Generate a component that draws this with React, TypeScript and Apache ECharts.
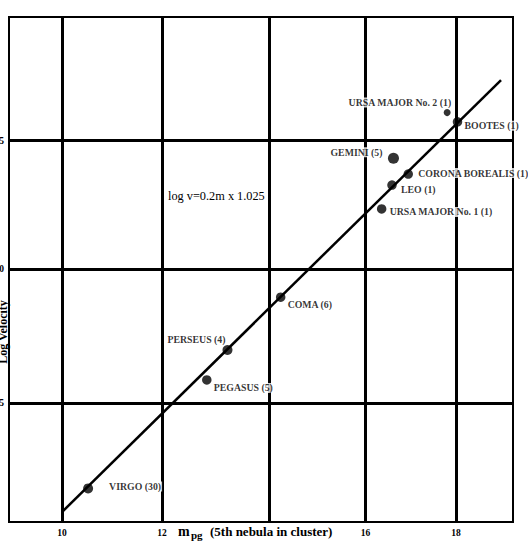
import React, { useEffect, useRef } from "react";
import * as echarts from "echarts";

// Clusters of nebulae: photographic magnitude of the 5th nebula vs log velocity
const clusterNames = [
  "VIRGO (30)",
  "PEGASUS (5)",
  "PERSEUS (4)",
  "COMA (6)",
  "URSA MAJOR No. 1 (1)",
  "LEO (1)",
  "CORONA BOREALIS (1)",
  "GEMINI (5)",
  "BOOTES (1)",
  "URSA MAJOR No. 2 (1)",
];
const clusterMag = [10.53, 12.94, 13.36, 14.44, 16.49, 16.7, 17.03, 16.73, 18.03, 17.82];
const clusterLogV = [3.176, 3.589, 3.703, 3.904, 4.24, 4.331, 4.373, 4.433, 4.572, 4.607];

// fitted line as drawn (log v = 0.2m x 1.025)
const fitMag = [10, 18.914];
const fitLogV = [3.086, 4.731];

// printed grid lines (the scanned scale is slightly uneven)
const xGridValues = [10, 12.03, 14.21, 16.16, 18];
const xTickValues = [10, 12.03, 16.16, 18];
const yGridValues = [3.5, 4.01, 4.5];

const SERIF = "'Liberation Serif', 'DejaVu Serif', serif";

const labelPlacement: Record<string, { align: string; offset: number[]; size: number }> = {
  "VIRGO (30)": { align: "left", offset: [20, -2], size: 10 },
  "PEGASUS (5)": { align: "left", offset: [6, 8], size: 9.5 },
  "PERSEUS (4)": { align: "right", offset: [-1, -10], size: 10 },
  "COMA (6)": { align: "left", offset: [6, 7], size: 9.5 },
  "URSA MAJOR No. 1 (1)": { align: "left", offset: [7, 3], size: 9.5 },
  "LEO (1)": { align: "left", offset: [8, 4], size: 9.5 },
  "CORONA BOREALIS (1)": { align: "left", offset: [9, -1], size: 9.5 },
  "GEMINI (5)": { align: "right", offset: [-10, -6], size: 11 },
  "BOOTES (1)": { align: "left", offset: [6, 4], size: 9.5 },
  "URSA MAJOR No. 2 (1)": { align: "right", offset: [5, -10], size: 7 },
};

export default function App() {
  const ref = useRef<HTMLDivElement>(null);

  useEffect(() => {
    if (!ref.current) return;
    const chart = echarts.init(ref.current, null, { renderer: "svg" });

    const scatterData = clusterNames.map((n, i) => {
      const p = labelPlacement[n];
      return {
        name: n,
        value: [clusterMag[i], clusterLogV[i]],
        symbolSize: p.size,
        label: {
          show: true,
          position: "inside",
          align: p.align,
          verticalAlign: "middle",
          offset: p.offset,
          formatter: n,
          color: "#000",
          fontFamily: SERIF,
          fontWeight: "bold",
          fontSize: 9.8,
          backgroundColor: "#fff",
          padding: [0, 1],
        },
      };
    });

    chart.setOption({
      animation: false,
      backgroundColor: "#fff",
      grid: {
        left: 9,
        right: 15,
        top: 17,
        bottom: 20,
        outerBoundsMode: "none",
        containLabel: false,
        show: true,
        borderColor: "#000",
        borderWidth: 2,
        backgroundColor: "#fff",
      },
      xAxis: {
        type: "value",
        min: 8.924,
        max: 19.157,
        axisLine: { show: false },
        axisTick: { show: false },
        splitLine: { show: false },
        axisLabel: {
          customValues: xTickValues,
          formatter: (v: number) => String(Math.round(v)),
          fontFamily: SERIF,
          fontWeight: "bold",
          fontSize: 9.5,
          color: "#000",
          margin: 6,
        },
      },
      yAxis: {
        type: "value",
        min: 3.048,
        max: 4.971,
        axisLine: { show: false },
        axisTick: { show: false },
        splitLine: { show: false },
        axisLabel: {
          customValues: yGridValues,
          formatter: (v: number) => v.toFixed(1),
          fontFamily: SERIF,
          fontWeight: "bold",
          fontSize: 9.5,
          color: "#000",
          margin: 5,
        },
      },
      series: [
        {
          type: "line",
          data: fitMag.map((m, i) => [m, fitLogV[i]]),
          symbol: "none",
          lineStyle: { color: "#000", width: 2.5 },
          silent: true,
          z: 3,
          markLine: {
            silent: true,
            z: 2,
            symbol: ["none", "none"],
            label: { show: false },
            lineStyle: { color: "#000", width: 3, type: "solid" },
            data: [
              ...xGridValues.map((v) => ({ xAxis: v })),
              ...yGridValues.map((v) => ({ yAxis: v })),
            ],
          },
        },
        {
          type: "scatter",
          data: scatterData,
          itemStyle: { color: "#000" },
          z: 10,
        },
      ],
      graphic: [
        {
          type: "text",
          left: 168,
          top: 190,
          style: {
            text: "log v=0.2m x 1.025",
            fontFamily: SERIF,
            fontSize: 12.3,
            fill: "#000",
          },
        },
        {
          type: "text",
          x: 178,
          y: 531,
          style: {
            text: "m",
            fontFamily: SERIF,
            fontWeight: "bold",
            fontSize: 14,
            fill: "#000",
            verticalAlign: "middle",
          },
        },
        {
          type: "text",
          x: 191,
          y: 535,
          style: {
            text: "pg",
            fontFamily: SERIF,
            fontWeight: "bold",
            fontSize: 11,
            fill: "#000",
            verticalAlign: "middle",
          },
        },
        {
          type: "text",
          x: 210,
          y: 531,
          style: {
            text: "(5th nebula in cluster)",
            fontFamily: SERIF,
            fontWeight: "bold",
            fontSize: 13,
            fill: "#000",
            verticalAlign: "middle",
          },
        },
        {
          type: "text",
          x: 3,
          y: 332,
          rotation: Math.PI / 2,
          style: {
            text: "Log Velocity",
            fontFamily: SERIF,
            fontWeight: "bold",
            fontSize: 12,
            fill: "#000",
            align: "center",
            verticalAlign: "middle",
          },
        },
      ],
    });

    return () => chart.dispose();
  }, []);

  return (
    <div
      ref={ref}
      style={{
        position: "fixed",
        left: 0,
        top: 0,
        width: 528,
        height: 542,
        background: "#fff",
      }}
    />
  );
}
